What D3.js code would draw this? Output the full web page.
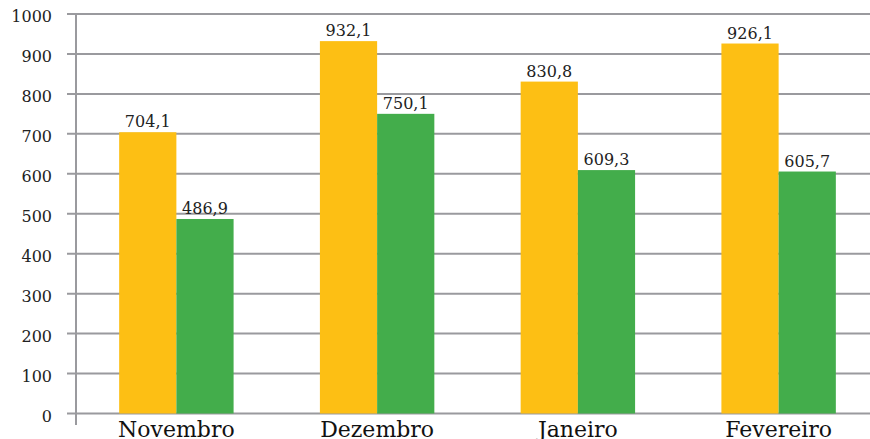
<!DOCTYPE html>
<html><head><meta charset="utf-8">
<script src="https://cdn.jsdelivr.net/npm/d3@7/dist/d3.min.js"></script>
<style>body{margin:0;background:#fff;overflow:hidden}svg{display:block}</style>
</head><body><svg id="c" width="870" height="439"></svg>
<script>
const categories = ["Novembro","Dezembro","Janeiro","Fevereiro"];
const seriesA = [704.1, 932.1, 830.8, 926.1];
const seriesB = [486.9, 750.1, 609.3, 605.7];
const yTicks = [0,100,200,300,400,500,600,700,800,900,1000];
const fmt = v => v.toFixed(1).replace(".", ",");

const svg = d3.select("#c");
const font = "'DejaVu Serif', serif";
const x0 = 76, x1 = 879, yTop = 14, yBot = 413.5;
const x = d3.scaleBand().domain(categories).range([x0, x1]).paddingInner(0.43).paddingOuter(0.215);
const xs = d3.scaleBand().domain(["A","B"]).range([0, x.bandwidth()]);
const y = d3.scaleLinear().domain([0,1000]).range([yBot, yTop]);

// gridlines
svg.append("g").selectAll("line").data(yTicks).join("line")
  .attr("x1", 67).attr("x2", 870).attr("y1", d => y(d)).attr("y2", d => y(d))
  .attr("stroke", "#9a9a9e").attr("stroke-width", 2);

// tick labels
svg.append("g").selectAll("text").data(yTicks).join("text")
  .attr("x", 52).attr("y", d => y(d) + 8).attr("text-anchor", "end")
  .attr("font-family", font).attr("font-size", 16).attr("fill", "#222")
  .text(d => d);

// bars
const groups = svg.append("g").selectAll("g").data(categories).join("g")
  .attr("transform", d => `translate(${x(d)},0)`);
const cols = {A: "#FDBF14", B: "#43AD4B"};
groups.each(function(c, i) {
  const g = d3.select(this);
  const vals = [{k:"A", v: seriesA[i]}, {k:"B", v: seriesB[i]}];
  g.selectAll("rect").data(vals).join("rect")
    .attr("x", d => xs(d.k)).attr("width", xs.bandwidth())
    .attr("y", d => y(d.v)).attr("height", d => y(0) - y(d.v))
    .attr("fill", d => cols[d.k]);
  g.selectAll("text").data(vals).join("text")
    .attr("x", d => xs(d.k) + xs.bandwidth()/2).attr("y", d => y(d.v) - 5)
    .attr("text-anchor", "middle").attr("font-family", font).attr("font-size", 16)
    .attr("fill", "#222").text(d => fmt(d.v));
});

// y axis line
svg.append("line").attr("x1", x0).attr("x2", x0).attr("y1", 13).attr("y2", 425)
  .attr("stroke", "#9a9a9e").attr("stroke-width", 2);

// x labels
svg.append("g").selectAll("text").data(categories).join("text")
  .attr("x", d => x(d) + x.bandwidth()/2).attr("y", 437)
  .attr("text-anchor", "middle").attr("font-family", font).attr("font-size", 22)
  .attr("fill", "#111").text(d => d);
</script></body></html>
